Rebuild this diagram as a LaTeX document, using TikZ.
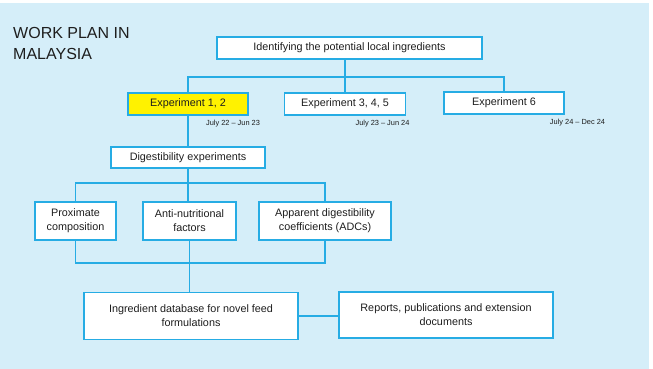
\documentclass[tikz,border=0pt]{standalone}
\usepackage{fontspec}
\setmainfont{Liberation Sans}
\usepackage{tikz}
\usetikzlibrary{positioning, calc}

\definecolor{lineblue}{RGB}{38,172,228}
\definecolor{bgblue}{RGB}{213,238,249}
\definecolor{textdark}{RGB}{30,30,30}

\begin{document}
\begin{tikzpicture}[x=1pt, y=-1pt,
    box/.style={draw=lineblue, fill=white, line width=1.2pt, inner sep=0pt,
                align=center, text=textdark, font=\fontsize{10.8}{14}\selectfont},
    link/.style={draw=lineblue, line width=1.1pt},
    datelbl/.style={text=textdark, font=\fontsize{7.4}{8}\selectfont, inner sep=0pt}]
    % Background
    \useasboundingbox (0,0) rectangle (653,369);
    \fill[bgblue] (0,3) rectangle (649,369);

    % Title
    \node[anchor=north west, align=left, inner sep=0pt, text=textdark,
          font=\fontsize{16}{21.5}\selectfont] (title) at (13,27) {WORK PLAN IN\\MALAYSIA};

    % Top level
    \node[box, minimum width=265, minimum height=22] (ingredients) at (349.5,48) {Identifying the potential local ingredients};

    % Experiments
    \node[box, fill=yellow, minimum width=120, minimum height=22] (exp12) at (188,104) {Experiment 1, 2};
    \node[box, minimum width=121, minimum height=22] (exp345) at (345,104) {Experiment 3, 4, 5};
    \node[box, minimum width=120, minimum height=22] (exp6) at (504,103) {Experiment 6};

    % Dates
    \node[datelbl] (date12) at (233,124) {July 22 – Jun 23};
    \node[datelbl] (date345) at (382.5,124) {July 23 – Jun 24};
    \node[datelbl] (date6) at (577.5,123) {July 24 – Dec 24};

    % Digestibility
    \node[box, minimum width=154, minimum height=21] (digest) at (188,157.5) {Digestibility experiments};
    \node[box, minimum width=81, minimum height=38] (proximate) at (75.5,221) {Proximate\\composition};
    \node[box, minimum width=93, minimum height=38] (antinut) at (189.5,221) {Anti-nutritional\\factors};
    \node[box, minimum width=132, minimum height=38] (adc) at (325,221) {Apparent digestibility\\coefficients (ADCs)};

    % Outputs
    \node[box, minimum width=214, minimum height=47] (database) at (191,316) {Ingredient database for novel feed\\formulations};
    \node[box, minimum width=214, minimum height=46] (reports) at (446,315) {Reports, publications and extension\\documents};

    % Bus lines
    \coordinate (busA) at (0,77);
    \coordinate (busB) at (0,183);
    \coordinate (busC) at (0,263);

    % Connectors
    \draw[link] (ingredients.south -| exp345.north) -- (exp345.north);
    \draw[link] (exp12.north) |- (exp6.north |- busA) -- (exp6.north);
    \draw[link] (exp12.south) -- (digest.north);
    \draw[link] (digest.south) -- (digest.south |- antinut.north);
    \draw[link] (proximate.north) |- (adc.north |- busB) -- (adc.north);
    \draw[link] (proximate.south) |- (adc.south |- busC) -- (adc.south);
    \draw[link] (antinut.south) -- (antinut.south |- database.north);
    \draw[link] (database.east) -- (database.east -| reports.west);
\end{tikzpicture}
\end{document}
